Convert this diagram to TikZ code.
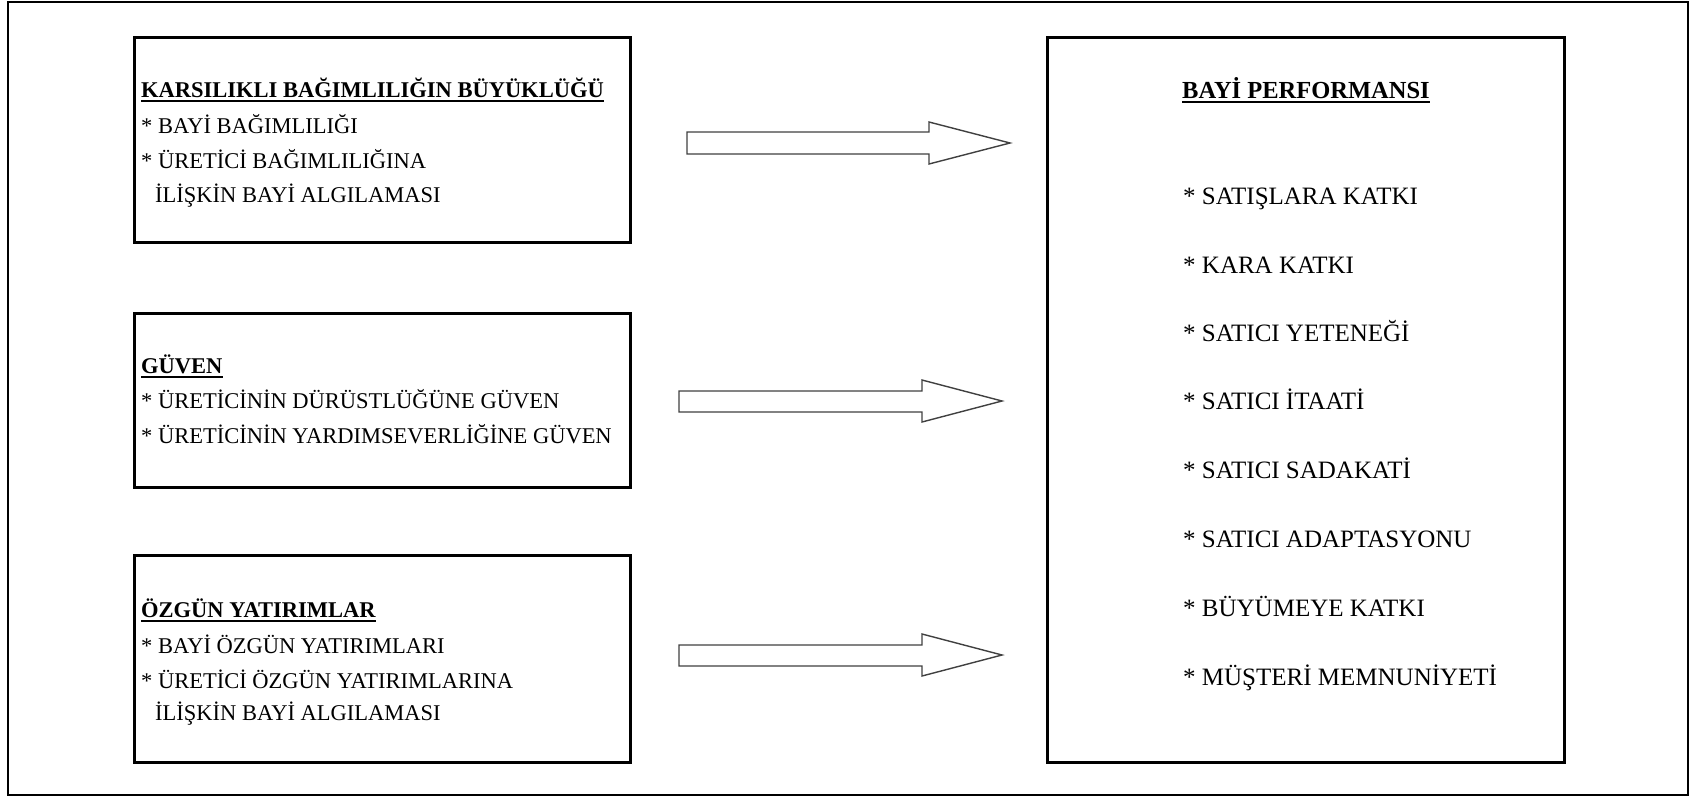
\documentclass[tikz,border=0pt]{standalone}
\usepackage{fontspec}
\setmainfont{Liberation Serif}
\begin{document}
\begin{tikzpicture}[x=1pt,y=-1pt,
  txt/.style={inner sep=0pt,anchor=base west,font=\fontsize{22.5}{27}\selectfont},
  head/.style={txt,font=\fontsize{22.5}{27}\selectfont\bfseries},
  rtxt/.style={inner sep=0pt,anchor=base west,font=\fontsize{25}{30}\selectfont},
  rhead/.style={rtxt,font=\fontsize{24.5}{30}\selectfont\bfseries},
  frame/.style={draw=black,line width=3pt},
  outer/.style={draw=black,line width=2.5pt},
  fatarrow/.style={draw=black!75,line width=1.4pt,line join=miter,fill=white},
  uline/.style={draw=black,line width=1.4pt}]
\useasboundingbox (0,0) rectangle (1693,798);
\draw[outer] (8,2) rectangle (1688,795);
% boxes
\draw[frame] (134,37) rectangle (630,242);
\draw[frame] (134,313) rectangle (630,487);
\draw[frame] (134,555) rectangle (630,762);
\draw[frame] (1047,37) rectangle (1564,762);
% box 1
\node[head] (h1) at (141,97) {KARSILIKLI BAĞIMLILIĞIN BÜYÜKLÜĞÜ};
\node[txt] (a1) at (141,133) {* BAYİ BAĞIMLILIĞI};
\node[txt] (a2) at (141,168) {* ÜRETİCİ BAĞIMLILIĞINA};
\node[txt] (a3) at (155,202) {İLİŞKİN BAYİ ALGILAMASI};
% box 2
\node[head] (h2) at (141,373) {GÜVEN};
\node[txt] (b1) at (141,408) {* ÜRETİCİNİN DÜRÜSTLÜĞÜNE GÜVEN};
\node[txt] (b2) at (141,443) {* ÜRETİCİNİN YARDIMSEVERLİĞİNE GÜVEN};
% box 3
\node[head] (h3) at (141,617) {ÖZGÜN YATIRIMLAR};
\node[txt] (c1) at (141,653) {* BAYİ ÖZGÜN YATIRIMLARI};
\node[txt] (c2) at (141,688) {* ÜRETİCİ ÖZGÜN YATIRIMLARINA};
\node[txt] (c3) at (155,720) {İLİŞKİN BAYİ ALGILAMASI};
% right box
\node[rhead] (h4) at (1182,98) {BAYİ PERFORMANSI};
\node[rtxt] (d1) at (1183,204) {* SATIŞLARA KATKI};
\node[rtxt] (d2) at (1183,273) {* KARA KATKI};
\node[rtxt] (d3) at (1183,341) {* SATICI YETENEĞİ};
\node[rtxt] (d4) at (1183,409) {* SATICI İTAATİ};
\node[rtxt] (d5) at (1183,478) {* SATICI SADAKATİ};
\node[rtxt] (d6) at (1183,547) {* SATICI ADAPTASYONU};
\node[rtxt] (d7) at (1183,616) {* BÜYÜMEYE KATKI};
\node[rtxt] (d8) at (1183,685) {* MÜŞTERİ MEMNUNİYETİ};
% underlines
\foreach \n in {h1,h2,h3,h4}
  \draw[uline] ([yshift=-4pt]\n.base west) -- ([yshift=-4pt]\n.base east);
% arrows
\coordinate (p1) at (687,132);
\coordinate (p2) at (679,391);
\coordinate (p3) at (679,645);
\draw[fatarrow] (p1) -- ++(242,0) -- ++(0,-10) -- ++(81,21) -- ++(-81,21) -- ++(0,-10) -- ++(-242,0) -- cycle;
\draw[fatarrow] (p2) -- ++(243,0) -- ++(0,-11) -- ++(80,21) -- ++(-80,21) -- ++(0,-10) -- ++(-243,0) -- cycle;
\draw[fatarrow] (p3) -- ++(243,0) -- ++(0,-11) -- ++(80,21) -- ++(-80,21) -- ++(0,-10) -- ++(-243,0) -- cycle;
\end{tikzpicture}
\end{document}
